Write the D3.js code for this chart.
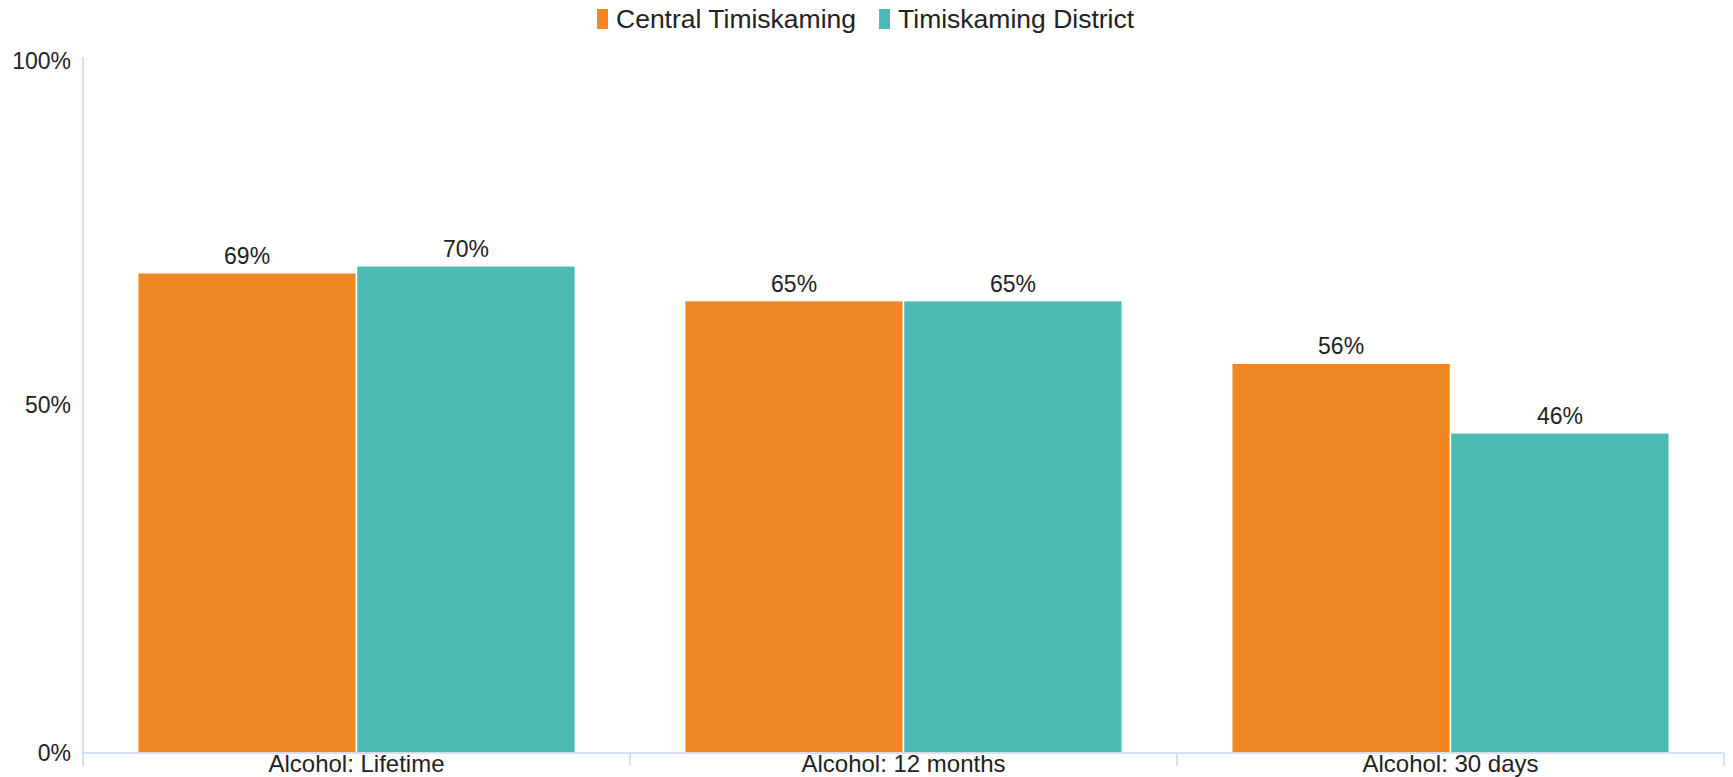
<!DOCTYPE html>
<html>
<head>
<meta charset="utf-8">
<script src="https://cdn.jsdelivr.net/npm/d3@7"></script>
<style>
  body { margin: 0; background: #fff; }
  text { font-family: "Liberation Sans", Arial, sans-serif; fill: #222; }
</style>
</head>
<body>
<svg id="chart" width="1733" height="777"></svg>
<script>
const categories = ["Alcohol: Lifetime", "Alcohol: 12 months", "Alcohol: 30 days"];
const seriesNames = ["Central Timiskaming", "Timiskaming District"];
const centralValues = [69, 65, 56];
const districtValues = [70, 65, 46];
const yTicks = [0, 50, 100];
const colors = ["#f08723", "#4bbab5"];

const svg = d3.select("#chart");
const margin = { top: 57, right: 9, bottom: 24, left: 83 };
const width = 1733 - margin.left - margin.right;
const height = 777 - margin.top - margin.bottom;

const g = svg.append("g").attr("transform", `translate(${margin.left},${margin.top})`);

const x0 = d3.scaleBand().domain(categories).range([0, width]).paddingInner(0).paddingOuter(0);
const x1 = d3.scaleBand().domain(seriesNames).range([0, x0.bandwidth()]).paddingOuter(0.25).paddingInner(0);
const y = d3.scaleLinear().domain([0, 100]).range([height, 0]);

const rows = categories.map((c, i) => ({
  category: c,
  values: [
    { name: seriesNames[0], value: centralValues[i], color: colors[0] },
    { name: seriesNames[1], value: districtValues[i], color: colors[1] }
  ]
}));

// y axis line
g.append("line")
  .attr("x1", 0).attr("x2", 0)
  .attr("y1", 0).attr("y2", height)
  .attr("stroke", "#ccd6eb").attr("stroke-width", 1.5);

// y tick labels
g.selectAll("text.ytick")
  .data(yTicks)
  .join("text")
  .attr("class", "ytick")
  .attr("x", -12)
  .attr("y", (d) => y(d))
  .attr("dy", d => d === 100 ? "0.5em" : "0.35em")
  .attr("text-anchor", "end")
  .attr("font-size", "23px")
  .text((d) => d + "%");

// bars
const groups = g.selectAll("g.group")
  .data(rows)
  .join("g")
  .attr("class", "group")
  .attr("transform", (d) => `translate(${x0(d.category)},0)`);

groups.selectAll("rect")
  .data((d) => d.values)
  .join("rect")
  .attr("x", (d) => x1(d.name))
  .attr("y", (d) => y(d.value))
  .attr("width", x1.bandwidth())
  .attr("height", (d) => height - y(d.value))
  .attr("fill", (d) => d.color)
  .attr("stroke", "#fff")
  .attr("stroke-width", 1.5);

groups.selectAll("text.val")
  .data((d) => d.values)
  .join("text")
  .attr("class", "val")
  .attr("x", (d) => x1(d.name) + x1.bandwidth() / 2)
  .attr("y", (d) => y(d.value) - 9)
  .attr("text-anchor", "middle")
  .attr("font-size", "23px")
  .text((d) => d.value + "%");

// x axis
g.append("line")
  .attr("x1", 0).attr("x2", width)
  .attr("y1", height).attr("y2", height)
  .attr("stroke", "#ccd6eb").attr("stroke-width", 1.5);

const boundaries = categories.map((c) => x0(c)).concat([width]);
g.selectAll("line.xtick")
  .data(boundaries)
  .join("line")
  .attr("class", "xtick")
  .attr("x1", (d) => d).attr("x2", (d) => d)
  .attr("y1", height).attr("y2", height + 13)
  .attr("stroke", "#ccd6eb").attr("stroke-width", 1.5);

g.selectAll("text.xlabel")
  .data(categories)
  .join("text")
  .attr("class", "xlabel")
  .attr("x", (d) => x0(d) + x0.bandwidth() / 2)
  .attr("y", height + 19)
  .attr("text-anchor", "middle")
  .attr("font-size", "24px")
  .text((d) => d);

// legend
const legend = svg.append("g").attr("transform", "translate(597,0)");
let lx = 0;
seriesNames.forEach((name, i) => {
  const item = legend.append("g").attr("transform", `translate(${lx},0)`);
  item.append("rect")
    .attr("x", 0).attr("y", 9)
    .attr("width", 11).attr("height", 20)
    .attr("fill", colors[i]);
  const t = item.append("text")
    .attr("x", 19).attr("y", 28)
    .attr("font-size", "26.5px")
    .text(name);
  lx += 19 + t.node().getComputedTextLength() + 23;
});
</script>
</body>
</html>
